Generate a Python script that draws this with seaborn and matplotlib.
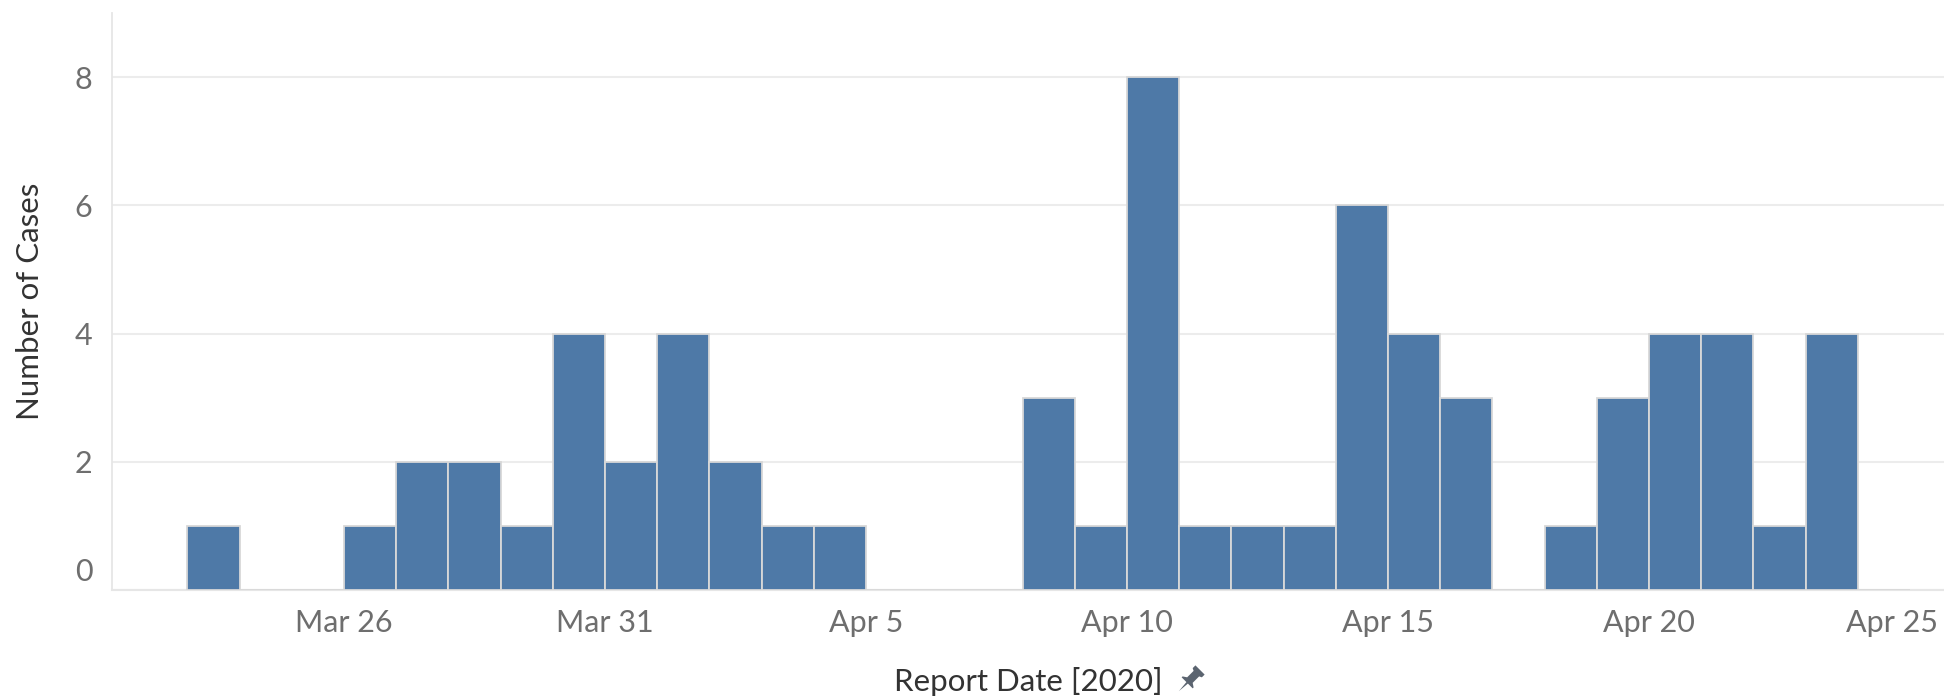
import pandas as pd
import numpy as np
import matplotlib.pyplot as plt
import matplotlib.dates as mdates
from matplotlib.patches import Polygon
from matplotlib.transforms import ScaledTranslation
import seaborn as sns

# Daily case counts
report_dates = [
    "2020-03-23", "2020-03-24", "2020-03-25", "2020-03-26", "2020-03-27",
    "2020-03-28", "2020-03-29", "2020-03-30", "2020-03-31", "2020-04-01",
    "2020-04-02", "2020-04-03", "2020-04-04", "2020-04-05", "2020-04-06",
    "2020-04-07", "2020-04-08", "2020-04-09", "2020-04-10", "2020-04-11",
    "2020-04-12", "2020-04-13", "2020-04-14", "2020-04-15", "2020-04-16",
    "2020-04-17", "2020-04-18", "2020-04-19", "2020-04-20", "2020-04-21",
    "2020-04-22", "2020-04-23", "2020-04-24",
]
cases = [1, 0, 0, 1, 2, 2, 1, 4, 2, 4, 2, 1, 1, 0, 0, 0,
         3, 1, 8, 1, 1, 1, 6, 4, 3, 0, 1, 3, 4, 4, 1, 4, 0]

tick_dates = ["2020-03-26", "2020-03-31", "2020-04-05", "2020-04-10",
              "2020-04-15", "2020-04-20", "2020-04-25"]
tick_labels = ["Mar 26", "Mar 31", "Apr 5", "Apr 10", "Apr 15", "Apr 20", "Apr 25"]
y_ticks = [0, 2, 4, 6, 8]

df = pd.DataFrame({"date": pd.to_datetime(report_dates), "cases": cases})
df["day"] = mdates.date2num(df["date"])

sns.set_style("white")
plt.rcParams["font.family"] = ["Lato", "DejaVu Sans"]

fig = plt.figure(figsize=(19.44, 6.96), dpi=100)
ax = fig.add_axes([111.7 / 1944, 1 - 590 / 696, 1 - 111.7 / 1944, (590 - 13) / 696])

# one bin per day, left edge on the date
sns.histplot(data=df, x="day", weights="cases", binwidth=1,
             binrange=(df["day"].min(), df["day"].max() + 1), ax=ax,
             color="#4e79a7", alpha=1, edgecolor="#d8d8d8", linewidth=1.3, zorder=3)

start = mdates.date2num(pd.Timestamp("2020-03-21")) + 0.55
ax.set_xlim(start, start + (1944 - 111.7) / 52.2)
ax.set_ylim(0, 9)

# gridlines and axes
ax.set_yticks(y_ticks)
ax.yaxis.grid(True, color="#ececec", linewidth=1.5, zorder=0)
ax.xaxis.grid(False)
for side in ["top", "right"]:
    ax.spines[side].set_visible(False)
ax.spines["left"].set_color("#e6e6e6")
ax.spines["left"].set_linewidth(1.3)
ax.spines["bottom"].set_color("#e6e6e6")
ax.spines["bottom"].set_linewidth(1.5)

ax.set_xticks(mdates.date2num(pd.to_datetime(tick_dates)))
ax.set_xticklabels(tick_labels)
ax.xaxis.set_minor_locator(mdates.DayLocator())
ax.tick_params(axis="x", which="major", length=10, width=1.2, color="#e6e6e6",
               labelsize=22, labelcolor="#6e6e6e", pad=4)
ax.tick_params(axis="x", which="minor", length=5, width=1.2, color="#e6e6e6")
ax.tick_params(axis="y", length=0, labelsize=22, labelcolor="#6e6e6e", pad=14)

ylabels = ax.get_yticklabels()
ylabels[0].set_va("bottom")
ylabels[0].set_transform(ylabels[0].get_transform()
                         + ScaledTranslation(0, 0.04, fig.dpi_scale_trans))

# last date label is pulled left so it stays inside the figure
xlabels = ax.get_xticklabels()
xlabels[-1].set_transform(xlabels[-1].get_transform()
                          + ScaledTranslation(-0.18, 0, fig.dpi_scale_trans))

ax.set_ylabel("Number of Cases", fontsize=22.5, color="#333333", labelpad=22)
ax.set_xlabel("")
fig.text(1028 / 1944, 1 - 682 / 696, "Report Date [2020]", fontsize=22.5,
         color="#333333", ha="center", va="center")

# small pin icon next to the axis title
pin = np.array([[-5, 12], [5, 12], [5, 9], [3, 8], [3, 1], [6, -1], [6, -2],
                [0.8, -2], [0, -11], [-0.8, -2], [-6, -2], [-6, -1], [-3, 1],
                [-3, 8], [-5, 9]]) * 1.3
th = np.deg2rad(-45)
rot = np.array([[np.cos(th), -np.sin(th)], [np.sin(th), np.cos(th)]])
pin = pin @ rot.T
cx, cy = 1189, 696 - 681
pts = np.column_stack(((pin[:, 0] + cx) / 1944, (pin[:, 1] + cy) / 696))
fig.patches.append(Polygon(pts, closed=True, transform=fig.transFigure,
                           facecolor="#5b6470", edgecolor="none"))

fig.savefig("out.png", dpi=100)
